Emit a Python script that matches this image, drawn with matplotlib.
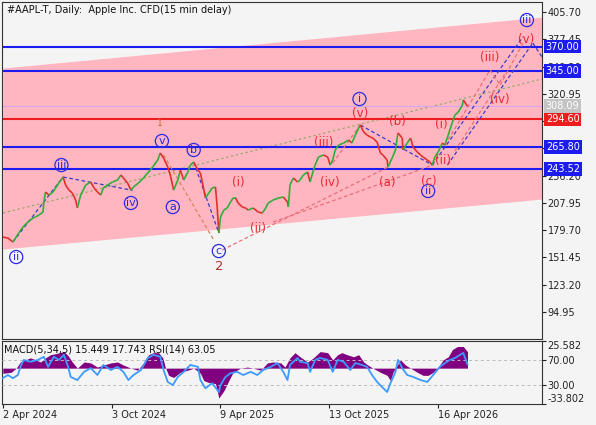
import matplotlib
matplotlib.use("Agg")
import matplotlib.pyplot as plt
import matplotlib.transforms as mtransforms
from matplotlib.collections import LineCollection

# ---- price path (bar index, close) ----
bar_idx = [0, 6, 12, 16, 19, 24, 30, 36, 39, 43, 48, 49, 51, 55, 60, 63, 67, 72, 75, 79,
           83, 87, 89, 93, 99, 105, 109, 113, 117, 120, 125, 131, 137, 141, 144, 149, 153, 156, 162, 168,
           173, 179, 185, 188, 192, 197, 200, 204, 209, 212, 216, 221, 224, 228, 233, 236, 239, 242, 246, 250,
           254, 256, 258, 260, 264, 268, 272, 275, 278, 281, 286, 290, 293, 299, 305, 310, 314, 317, 323, 329,
           335, 340, 341, 343, 347, 352, 355, 359, 364, 367, 370, 373, 377, 383, 388, 391, 394, 397, 401, 407,
           413, 417, 421, 425, 427, 431, 435, 439, 442, 447, 451, 454, 459, 460, 465, 469, 471, 472, 477, 478,
           483, 487, 490, 495, 499, 502, 507, 510, 513, 516, 520, 525, 528, 532, 537, 540, 544, 549, 550, 555]
close = [172.6, 171.6, 167.5, 172.6, 176.8, 183.0, 188.2, 192.3, 193.4, 195.4, 198.5, 208.9, 219.3, 216.1, 219.3, 223.4, 228.6, 234.8, 226.5, 221.3,
         218.2, 210.9, 202.7, 216.1, 226.5, 229.6, 223.4, 219.3, 216.1, 223.4, 226.5, 229.6, 231.7, 236.9, 233.8, 228.6, 221.3, 224.4, 228.6, 233.8,
         238.9, 245.2, 252.4, 259.6, 254.5, 245.2, 236.9, 221.3, 231.7, 242.0, 231.7, 240.0, 247.2, 250.3, 242.0, 238.9, 226.5, 213.0, 218.2, 223.4,
         224.4, 203.7, 176.8, 193.4, 200.6, 202.7, 208.9, 213.0, 213.0, 207.9, 203.7, 202.7, 200.6, 202.7, 198.5, 197.5, 202.7, 207.9, 211.0, 213.0,
         214.1, 208.9, 203.7, 226.5, 233.8, 229.6, 231.7, 236.9, 240.0, 229.6, 238.9, 247.2, 255.5, 257.6, 255.5, 247.2, 252.4, 262.8, 267.9, 270.0,
         273.1, 270.0, 278.3, 285.5, 288.7, 281.4, 278.3, 276.2, 275.2, 271.0, 259.7, 257.6, 252.4, 245.1, 254.5, 262.8, 275.2, 280.4, 275.2, 262.8,
         270.0, 275.2, 265.9, 260.7, 257.6, 255.5, 252.4, 250.3, 247.2, 255.5, 260.7, 270.0, 267.9, 278.3, 291.8, 299.0, 302.1, 309.4, 314.6, 308.09]

# ---- indicator window ----
macd_idx = [0, 10, 16, 21, 27, 33, 39, 45, 51, 57, 63, 73, 78, 83, 89, 97, 105, 113, 120, 129,
            137, 144, 153, 161, 168, 174, 180, 186, 191, 194, 198, 204, 212, 221, 228, 236, 240, 246, 254, 258,
            264, 270, 275, 284, 292, 299, 308, 316, 323, 332, 337, 343, 349, 355, 364, 371, 379, 388, 394, 400,
            405, 411, 419, 425, 431, 436, 442, 451, 459, 463, 466, 471, 475, 481, 487, 495, 502, 508, 514, 520,
            526, 532, 537, 543, 550, 555]
macd_val = [-4.9, -3.9, 0, 5.8, 7.8, 9.7, 7.8, 5.8, 9.7, 12.7, 13.6, 15.6, 11.7, 5.8, 0, 5.8, 4.9, 1.0, 2.9, 4.9,
            5.8, 2.9, 0, -1.9, 4.9, 12.7, 14.6, 14.6, 9.7, 1.0, -6.8, -8.8, -3.9, -1.9, 0, -4.9, -11.7, -13.6, -14.6, -28.2,
            -21.4, -11.7, -3.9, 0, 1.0, 0, -1.9, 4.9, 5.8, 4.9, 1.0, 9.7, 14.6, 10.7, 5.8, 9.7, 15.6, 14.6, 7.8, 12.7,
            14.6, 12.7, 10.7, 12.7, 5.8, 2.9, 0, -3.9, -6.8, -11.7, -3.9, 2.9, 7.8, 2.9, 0, -3.9, -6.8, -6.8, -3.9, 1.0,
            7.8, 10.7, 17.5, 20.4, 20.4, 15.4]
rsi_idx = [0, 6, 12, 18, 21, 25, 33, 42, 49, 54, 61, 67, 73, 78, 81, 89, 97, 105, 113, 120,
           129, 137, 144, 150, 156, 165, 173, 180, 188, 192, 197, 203, 209, 216, 224, 233, 236, 242, 250, 258,
           260, 266, 272, 280, 287, 296, 304, 311, 320, 328, 335, 340, 343, 352, 355, 364, 367, 373, 379, 388,
           394, 400, 407, 415, 421, 429, 435, 441, 447, 453, 459, 463, 469, 472, 477, 483, 490, 499, 507, 514,
           522, 528, 534, 540, 546, 550, 555]
rsi_val = [41, 46, 41, 46, 59, 70, 67, 70, 75, 59, 75, 70, 78, 59, 43, 38, 51, 57, 46, 62,
           54, 59, 51, 38, 46, 54, 73, 78, 75, 54, 35, 30, 43, 51, 62, 59, 38, 25, 33, 19,
           30, 43, 49, 51, 46, 51, 46, 54, 59, 65, 51, 38, 62, 73, 67, 65, 51, 70, 73, 70,
           51, 70, 67, 54, 65, 62, 59, 46, 35, 27, 19, 33, 51, 70, 57, 46, 43, 38, 35, 46,
           59, 65, 70, 73, 78, 81, 63]

date_pos = [0, 130, 259, 390, 520]
date_labels = ["2 Apr 2024", "3 Oct 2024", "9 Apr 2025", "13 Oct 2025", "16 Apr 2026"]
price_ticks = [405.70, 377.45, 349.20, 320.95, 292.70, 264.45, 236.20, 207.95, 179.70, 151.45, 123.20, 94.95]
# tick values whose labels sit fully under a level box in the reference
hidden_ticks = [292.70, 264.45]

levels = [370.00, 345.00, 294.60, 265.80, 243.52]
level_colors = ["#1c1cf0", "#1c1cf0", "#ee1c1c", "#1c1cf0", "#1c1cf0"]
last_price = 308.09

# price channel (start/end of band)
channel_x = [0, 644]
channel_top = [347.7, 400.5]
channel_bot = [160.2, 212.0]

# wave marks
blue_labels = [("ii", 16, 151.9), ("iii", 70, 247.2), ("iv", 153, 207.9), ("v", 190, 272.1),
               ("a", 203, 203.7), ("b", 228, 262.8), ("c", 258, 158.1), ("i", 426, 315.6),
               ("ii", 508, 220.3), ("iii", 626, 397.4)]
red_labels = [("(i)", 281, 229.6), ("(ii)", 305, 181.9), ("(iii)", 383, 271.0), ("(iv)", 391, 229.6),
              ("(v)", 427, 301.1), ("(a)", 459, 229.6), ("(b)", 471, 291.8), ("(c)", 509, 230.6),
              ("(i)", 524, 288.7), ("(ii)", 526, 252.4), ("(iii)", 582, 358.1), ("(iv)", 594, 314.6),
              ("(v)", 625, 377.7)]

blue_lines = [(12, 167.5, 72, 234.8), (72, 234.8, 155, 221.0), (228, 250.3, 258, 176.8),
              (427, 288.7, 513, 247.2), (513, 247.2, 621, 379.8), (531, 247.2, 633, 373.6),
              (633, 373.6, 644, 359.1)]
red_lines = [(262, 159.2, 460, 245.1), (323, 188.2, 514, 247.2), (394, 249.3, 427, 288.7),
             (528, 267.9, 582, 345.6), (582, 345.6, 594, 330.1), (594, 330.1, 622, 374.6),
             (540, 262.0, 600, 342.0)]
brown_lines = [(192, 257.6, 252, 169.5)]
green_lines = [(0, 197.5, 644, 336.3)]

BG = "#f4f4f4"
fig = plt.figure(figsize=(5.96, 4.25), dpi=100)
fig.patch.set_facecolor(BG)

ax = fig.add_axes([2 / 596, 1 - 339 / 425, 540 / 596, 337 / 425])
axm = fig.add_axes([2 / 596, 1 - 404 / 425, 540 / 596, 63 / 425])
axr = axm.twinx()

for a in (ax, axm):
    a.set_facecolor(BG)
    a.set_xlim(-1, 644)
    for s in a.spines.values():
        s.set_color("#333333")
        s.set_linewidth(0.8)

# --- main panel ---
ax.set_ylim(67.0, 416.1)
ax.fill_between(channel_x, channel_bot, channel_top, color="#ffb6c1", lw=0, zorder=0)

for x0, y0, x1, y1 in green_lines:
    ax.plot([x0, x1], [y0, y1], color="#9aa870", lw=0.9, ls=(0, (2, 2)), zorder=1)

for lvl, c in zip(levels, level_colors):
    ax.axhline(lvl, color=c, lw=1.5, zorder=2)
ax.axhline(last_price, color="#d4a6ee", lw=0.8, zorder=2)

for x0, y0, x1, y1 in blue_lines:
    ax.plot([x0, x1], [y0, y1], color="#3b3bc4", lw=0.9, ls=(0, (3, 2)), zorder=3)
for x0, y0, x1, y1 in red_lines:
    ax.plot([x0, x1], [y0, y1], color="#e8707a", lw=0.9, ls=(0, (3, 2)), zorder=3)
for x0, y0, x1, y1 in brown_lines:
    ax.plot([x0, x1], [y0, y1], color="#d4845a", lw=0.9, ls=(0, (3, 2)), zorder=3)

# price as up/down coloured segments
segs = []
cols = []
for i in range(1, len(bar_idx)):
    segs.append([(bar_idx[i - 1], close[i - 1]), (bar_idx[i], close[i])])
    cols.append("#2fae3a" if close[i] >= close[i - 1] else "#e0302c")
ax.add_collection(LineCollection(segs, colors=cols, linewidths=1.2, zorder=4))

for txt, x, y in blue_labels:
    ax.text(x, y, txt, color="#2a2ae0", fontsize=8, ha="center", va="center", zorder=6,
            bbox=dict(boxstyle="circle,pad=0.14", fc="none", ec="#2a2ae0", lw=0.9))
for txt, x, y in red_labels:
    ax.text(x, y, txt, color="#ec2830", fontsize=8.5, ha="center", va="center", zorder=6)
ax.text(188, 290.7, "1", color="#c8682a", fontsize=6.5, ha="center", va="center", zorder=6)
ax.text(258, 141.6, "2", color="#a8322a", fontsize=9.5, ha="center", va="center", zorder=6)

ax.set_xticks([])
ax.yaxis.tick_right()
ax.set_yticks(price_ticks)
ax.set_yticklabels(["" if t in hidden_ticks else f"{t:.2f}" for t in price_ticks])
ax.tick_params(axis="y", direction="out", length=3, labelsize=7, pad=1, colors="#222222")

trans = mtransforms.blended_transform_factory(ax.transAxes, ax.transData)
for lvl, c in zip(levels, level_colors):
    ax.text(1.007, lvl, f"{lvl:.2f}", transform=trans, color="white", fontsize=7, ha="left", va="center",
            zorder=10, clip_on=False, bbox=dict(boxstyle="square,pad=0.2", fc=c, ec="none"))
ax.text(1.007, last_price, f"{last_price:.2f}", transform=trans, color="white", fontsize=7, ha="left",
        va="center", zorder=10, clip_on=False, bbox=dict(boxstyle="square,pad=0.2", fc="#c4c4c4", ec="none"))

ax.text(0.009, 0.992, "#AAPL-T, Daily:  Apple Inc. CFD(15 min delay)", transform=ax.transAxes,
        fontsize=7, ha="left", va="top", color="#111111", zorder=10)

# --- MACD / RSI panel ---
axm.set_ylim(-33.802, 25.582)
axm.fill_between(macd_idx, 0, macd_val, color="#800080", lw=0, zorder=2)
axm.yaxis.tick_right()
axm.set_yticks([25.582, -33.802])
axm.set_yticklabels(["25.582", "-33.802"])
axm.tick_params(axis="y", direction="out", length=3, labelsize=7, pad=1, colors="#222222",
                left=False, labelleft=False, right=True, labelright=True)
tl = axm.get_yticklabels()
tl[0].set_va("top")
tl[1].set_va("bottom")

axm.set_xticks(date_pos)
axm.set_xticklabels(date_labels)
axm.tick_params(axis="x", direction="out", length=3, labelsize=7, pad=1, colors="#222222")
for lab in axm.get_xticklabels():
    lab.set_ha("left")

axr.set_ylim(0, 100)
axr.axhline(70, color="#bbbbbb", lw=0.7, ls=(0, (3, 3)))
axr.axhline(30, color="#bbbbbb", lw=0.7, ls=(0, (3, 3)))
axr.plot(rsi_idx, rsi_val, color="#3d9bff", lw=1.3)
axr.set_yticks([70, 30])
axr.set_yticklabels(["70.00", "30.00"])
axr.tick_params(axis="y", direction="out", length=3, labelsize=7, pad=1, colors="#222222")
for s in axr.spines.values():
    s.set_visible(False)
axr.text(0.004, 0.95, "MACD(5,34,5) 15.449 17.743 RSI(14) 63.05", transform=axr.transAxes,
         fontsize=7, ha="left", va="top", color="#111111")

fig.savefig("out.png", dpi=100, facecolor=BG)
